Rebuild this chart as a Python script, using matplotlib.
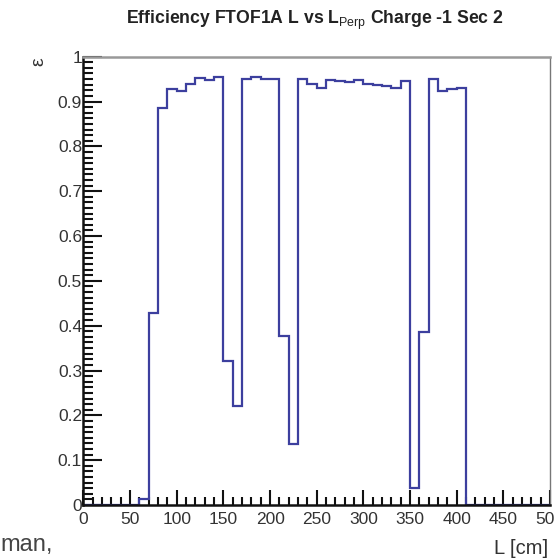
import matplotlib
matplotlib.use("Agg")
import matplotlib.pyplot as plt
import numpy as np
from matplotlib.ticker import MultipleLocator

# ---- data ----
bin_edges = list(range(0, 510, 10))
efficiency = [
    0, 0, 0, 0, 0, 0,
    0.013, 0.429, 0.885, 0.929, 0.924, 0.940, 0.952, 0.947, 0.955,
    0.321, 0.221, 0.951, 0.955, 0.950, 0.950, 0.376, 0.136,
    0.951, 0.940, 0.930, 0.949, 0.945, 0.944, 0.949, 0.940, 0.936, 0.935, 0.930, 0.945,
    0.039, 0.385, 0.951, 0.924, 0.928, 0.930,
    0, 0, 0, 0, 0, 0, 0, 0, 0,
]
title = r"Efficiency FTOF1A L vs L$_{\mathrm{Perp}}$ Charge -1 Sec 2"
x_label = "L [cm]"
y_label = "ε"

plt.rcParams['font.family'] = ['Liberation Sans', 'DejaVu Sans']
plt.rcParams['mathtext.fontset'] = 'custom'
plt.rcParams['mathtext.rm'] = 'Liberation Sans'
plt.rcParams['mathtext.it'] = 'Liberation Sans:italic'
plt.rcParams['mathtext.bf'] = 'Liberation Sans:bold'

fig = plt.figure(figsize=(5.54, 5.60), dpi=100)
ax = fig.add_axes([0.1507, 0.0982, 0.8421, 0.8006])

ax.stairs(efficiency, bin_edges, color='#3c3f9e', linewidth=1.6, baseline=0, zorder=2)

ax.set_xlim(0, 500)
ax.set_ylim(0, 1)

ax.xaxis.set_major_locator(MultipleLocator(50))
ax.xaxis.set_minor_locator(MultipleLocator(10))
ax.yaxis.set_major_locator(MultipleLocator(0.1))
ax.yaxis.set_minor_locator(MultipleLocator(0.0125))
ax.yaxis.set_major_formatter(matplotlib.ticker.FuncFormatter(
    lambda v, p: '0' if abs(v) < 1e-9 else ('1' if abs(v - 1) < 1e-9 else f'{v:.1f}')))

ax.tick_params(axis='both', which='major', direction='in', labelsize=12.5,
               colors='#111111', labelcolor='#333333', width=1.5)
ax.tick_params(axis='x', which='major', length=11, pad=5)
ax.tick_params(axis='y', which='major', length=14, pad=1)
ax.tick_params(axis='x', which='minor', direction='in', length=6, width=1.5, colors='#111111')
ax.tick_params(axis='y', which='minor', direction='in', length=7, width=1.5, colors='#111111')

for side in ('left', 'bottom'):
    ax.spines[side].set_color('#111111')
    ax.spines[side].set_linewidth(1.8)
ax.spines['top'].set_color('#999999')
ax.spines['top'].set_linewidth(1.8)
ax.spines['right'].set_color('#777777')
ax.spines['right'].set_linewidth(1.0)

fig.text(0.568, 0.963, title, ha='center', va='center', fontsize=12.7,
         fontweight='bold', color='#222222')
fig.text(0.990, 0.021, x_label, ha='right', va='center', fontsize=14.5, color='#333333')
fig.text(0.071, 0.889, y_label, ha='center', va='center', fontsize=14,
         rotation=90, color='#333333')
fig.text(0.0, 0.027, "man,", ha='left', va='center', fontsize=17, color='#444444')

fig.savefig("out.png", dpi=100)
